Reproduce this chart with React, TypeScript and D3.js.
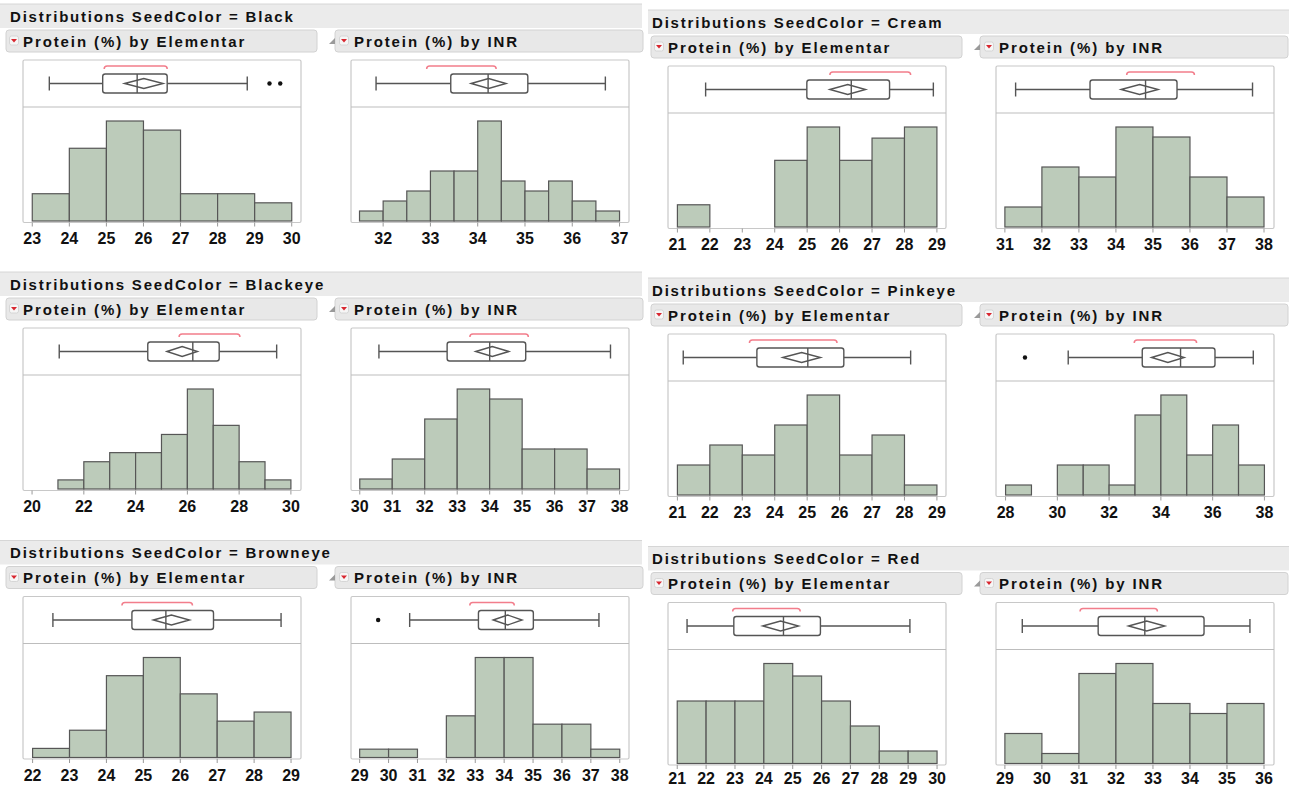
import React from 'react';
import * as d3 from 'd3';

// panel order: row by row, left column then right column
const seedColors = ['Black', 'Cream', 'Blackeye', 'Pinkeye', 'Browneye', 'Red'];

// Protein (%) by Elementar
const elemBinStart = [23, 21, 21, 21, 22, 21];
const elemBinWidth = [1, 1, 1, 1, 1, 1];
const elemCounts = [
  [3, 8, 11, 10, 3, 3, 2],
  [2, 0, 0, 6, 9, 6, 8, 9],
  [1, 3, 4, 4, 6, 11, 7, 3, 1],
  [3, 5, 4, 7, 10, 4, 6, 1],
  [1, 3, 9, 11, 7, 4, 5],
  [5, 5, 5, 8, 7, 5, 3, 1, 1],
];
const elemTicks = [
  [23, 24, 25, 26, 27, 28, 29, 30],
  [21, 22, 23, 24, 25, 26, 27, 28, 29],
  [20, 22, 24, 26, 28, 30],
  [21, 22, 23, 24, 25, 26, 27, 28, 29],
  [22, 23, 24, 25, 26, 27, 28, 29],
  [21, 22, 23, 24, 25, 26, 27, 28, 29, 30],
];
const elemDomain = [
  [22.75, 30.25], [20.71, 29.28], [19.65, 30.39],
  [20.71, 29.28], [21.74, 29.27], [20.68, 30.31],
];
// whisker low, Q1, median, Q3, whisker high
const elemQuartiles = [
  [23.46, 24.9, 25.83, 26.64, 28.8],
  [21.87, 24.99, 26.36, 27.54, 28.89],
  [21.05, 24.47, 26.21, 27.23, 29.45],
  [21.18, 23.45, 25.02, 26.13, 28.19],
  [22.55, 24.69, 25.61, 26.9, 28.73],
  [21.34, 22.96, 24.68, 25.96, 29.06],
];
// mean, half width of confidence diamond
const elemMean = [
  [26.01, 0.52], [26.25, 0.55], [25.8, 0.59],
  [24.83, 0.58], [25.76, 0.49], [24.58, 0.62],
];
const elemShortest = [
  [24.94, 26.64], [25.7, 28.19], [25.68, 28.03],
  [23.22, 25.92], [24.42, 26.33], [22.92, 25.26],
];
const elemOutliers = [[29.4, 29.69], [], [], [], [], []];

// Protein (%) by INR
const inrBinStart = [31.5, 31, 30, 28, 29, 29];
const inrBinWidth = [0.5, 1, 1, 1, 1, 1];
const inrCounts = [
  [1, 2, 3, 5, 5, 10, 4, 3, 4, 2, 1],
  [2, 6, 5, 10, 9, 5, 3],
  [1, 3, 7, 10, 9, 4, 4, 2],
  [1, 0, 3, 3, 1, 8, 10, 4, 7, 3],
  [1, 1, 0, 5, 12, 12, 4, 4, 1],
  [3, 1, 9, 10, 6, 5, 6],
];
const inrTicks = [
  [32, 33, 34, 35, 36, 37],
  [31, 32, 33, 34, 35, 36, 37, 38],
  [30, 31, 32, 33, 34, 35, 36, 37, 38],
  [28, 30, 32, 34, 36, 38],
  [29, 30, 31, 32, 33, 34, 35, 36, 37, 38],
  [29, 30, 31, 32, 33, 34, 35, 36],
];
const inrDomain = [
  [31.32, 37.2], [30.76, 38.27], [29.73, 38.29],
  [27.63, 38.37], [28.7, 38.32], [28.76, 36.27],
];
const inrQuartiles = [
  [31.85, 33.43, 34.22, 35.06, 36.7],
  [31.29, 33.3, 34.8, 35.65, 37.69],
  [30.59, 32.69, 34.0, 35.11, 37.72],
  [30.42, 33.28, 34.76, 36.09, 37.57],
  [30.73, 33.11, 34.04, 35.01, 37.28],
  [29.47, 31.52, 32.78, 34.38, 35.62],
];
const inrMean = [
  [34.23, 0.37], [34.64, 0.5], [34.08, 0.51],
  [34.27, 0.63], [34.12, 0.5], [32.83, 0.49],
];
const inrShortest = [
  [32.92, 34.39], [34.29, 36.12], [33.39, 35.19],
  [32.97, 35.38], [32.81, 34.35], [31.03, 33.12],
];
const inrOutliers = [[], [], [], [28.75], [29.64], []];

const W = 1289;
const H = 788;
const colX = [0, 645];
const colDy = [0, 6];
const rowTop = [60, 328, 596.5];
const frameW = 278;
const frameH = 162.5;
const boxH = 47;

const FONT = '"Liberation Sans", Arial, sans-serif';
const BAR_FILL = '#bccbba';
const BAR_STROKE = '#565656';
const LINE = '#555';

interface PanelProps {
  x0: number;
  y0: number;
  domain: number[];
  ticks: number[];
  binStart: number;
  binWidth: number;
  counts: number[];
  q: number[];
  mean: number[];
  shortest: number[];
  outliers: number[];
}

function Panel({ x0, y0, domain, ticks, binStart, binWidth, counts, q, mean, shortest, outliers }: PanelProps) {
  const x = d3.scaleLinear().domain(domain).range([x0, x0 + frameW]);
  const bottom = y0 + frameH;
  const sep = y0 + boxH;
  const y = d3.scaleLinear()
    .domain([0, (d3.max(counts) || 1) * 1.14])
    .range([bottom - 1.5, sep]);
  const bins = counts.map((c, i) => ({
    a: binStart + i * binWidth,
    b: binStart + (i + 1) * binWidth,
    c,
  })).filter(d => d.c > 0);

  const cy = y0 + boxH / 2;
  const [wlo, q1, med, q3, whi] = q;
  const [m, hw] = mean;
  const by = y0 + 6;
  const bracket = d3.path();
  bracket.moveTo(x(shortest[0]), by + 3);
  bracket.quadraticCurveTo(x(shortest[0]), by, x(shortest[0]) + 3, by);
  bracket.lineTo(x(shortest[1]) - 3, by);
  bracket.quadraticCurveTo(x(shortest[1]), by, x(shortest[1]), by + 3);

  // tick label baseline, kept inside the page at the bottom row
  const labelY = Math.min(bottom + 21.5, H - 4);

  return (
    <g>
      <rect x={x0} y={y0} width={frameW} height={frameH} fill="#fff" stroke="#c8c8c8" strokeWidth={1.2} rx={1.5} />
      <line x1={x0} x2={x0 + frameW} y1={sep} y2={sep} stroke="#bdbdbd" strokeWidth={1.2} />
      {bins.map((d, i) => (
        <rect key={i} x={x(d.a)} y={y(d.c)} width={x(d.b) - x(d.a)} height={y(0) - y(d.c)}
          fill={BAR_FILL} stroke={BAR_STROKE} strokeWidth={1.2} />
      ))}
      {ticks.map(t => (
        <g key={t}>
          <line x1={x(t)} x2={x(t)} y1={bottom} y2={bottom + 4} stroke="#999" strokeWidth={1} />
          <text x={x(t)} y={labelY} textAnchor="middle"
            fontFamily={FONT} fontWeight="bold" fontSize={16} fill="#111">{t}</text>
        </g>
      ))}
      <path d={bracket.toString()} fill="none" stroke="#f27d8b" strokeWidth={1.5} />
      <line x1={x(wlo)} x2={x(q1)} y1={cy} y2={cy} stroke={LINE} strokeWidth={1.4} />
      <line x1={x(q3)} x2={x(whi)} y1={cy} y2={cy} stroke={LINE} strokeWidth={1.4} />
      <line x1={x(wlo)} x2={x(wlo)} y1={cy - 7} y2={cy + 7} stroke={LINE} strokeWidth={1.4} />
      <line x1={x(whi)} x2={x(whi)} y1={cy - 7} y2={cy + 7} stroke={LINE} strokeWidth={1.4} />
      <rect x={x(q1)} y={cy - 9.5} width={x(q3) - x(q1)} height={19} rx={2.5}
        fill="#fff" stroke={LINE} strokeWidth={1.4} />
      <polygon
        points={[[x(m - hw), cy], [x(m), cy - 5], [x(m + hw), cy], [x(m), cy + 5]].map(p => p.join(',')).join(' ')}
        fill="none" stroke={LINE} strokeWidth={1.4} />
      <line x1={x(med)} x2={x(med)} y1={cy - 9.5} y2={cy + 9.5} stroke={LINE} strokeWidth={1.4} />
      {outliers.map((o, i) => (
        <circle key={i} cx={x(o)} cy={cy} r={2.2} fill="#111" />
      ))}
    </g>
  );
}

function SubHeader({ x, y, w, label, textX, iconX, grip }: { x: number; y: number; w: number; label: string; textX: number; iconX: number; grip: boolean }) {
  const cy = y + 11;
  return (
    <g>
      <rect x={x} y={y} width={w} height={22} rx={3} fill="#e8e8e8" stroke="#d2d2d2" strokeWidth={1} />
      {grip && (
        <path d={`M${iconX - 9},${cy + 3} L${iconX - 15},${cy + 3} L${iconX - 9},${cy - 3} Z`} fill="#9a9a9a" />
      )}
      <rect x={iconX - 4.5} y={cy - 5} width={9} height={9} rx={2} fill="#f6f6f6" stroke="#cfcfcf" strokeWidth={0.8} />
      <path d={`M${iconX - 3},${cy - 2} L${iconX + 3},${cy - 2} L${iconX},${cy + 1.5} Z`} fill="#d8262f" />
      <text x={textX} y={cy} dominantBaseline="central" fontFamily={FONT} fontWeight="bold"
        fontSize={15} letterSpacing={1.9} fill="#111">{label}</text>
    </g>
  );
}

export default function App() {
  return (
    <svg width={W} height={H} style={{ position: 'absolute', left: 0, top: 0, background: '#fff' }}>
      <rect width={W} height={H} fill="#fff" />
      {seedColors.map((sc, i) => {
        const col = i % 2;
        const row = Math.floor(i / 2);
        const cx = colX[col];
        const top = rowTop[row] + colDy[col];
        return (
          <g key={sc}>
            <rect x={cx + (col ? 3 : 0)} y={top - 56} width={642} height={24} fill="#ebebeb" />
            <line x1={cx + (col ? 3 : 0)} x2={cx + (col ? 3 : 0) + 642} y1={top - 56} y2={top - 56} stroke="#d6d6d6" />
            <text x={cx + (col ? 7 : 10)} y={top - 44} dominantBaseline="central" fontFamily={FONT}
              fontWeight="bold" fontSize={15} letterSpacing={1.8} fill="#111">
              {`Distributions SeedColor = ${sc}`}
            </text>
            <SubHeader x={cx + 6} y={top - 30} w={311} label="Protein (%) by Elementar"
              textX={cx + 23} iconX={cx + 14} grip={false} />
            <SubHeader x={cx + 335} y={top - 30} w={308} label="Protein (%) by INR"
              textX={cx + 354} iconX={cx + 344} grip={true} />
            <Panel x0={cx + 23} y0={top} domain={elemDomain[i]} ticks={elemTicks[i]}
              binStart={elemBinStart[i]} binWidth={elemBinWidth[i]} counts={elemCounts[i]}
              q={elemQuartiles[i]} mean={elemMean[i]} shortest={elemShortest[i]} outliers={elemOutliers[i]} />
            <Panel x0={cx + 351} y0={top} domain={inrDomain[i]} ticks={inrTicks[i]}
              binStart={inrBinStart[i]} binWidth={inrBinWidth[i]} counts={inrCounts[i]}
              q={inrQuartiles[i]} mean={inrMean[i]} shortest={inrShortest[i]} outliers={inrOutliers[i]} />
          </g>
        );
      })}
    </svg>
  );
}
